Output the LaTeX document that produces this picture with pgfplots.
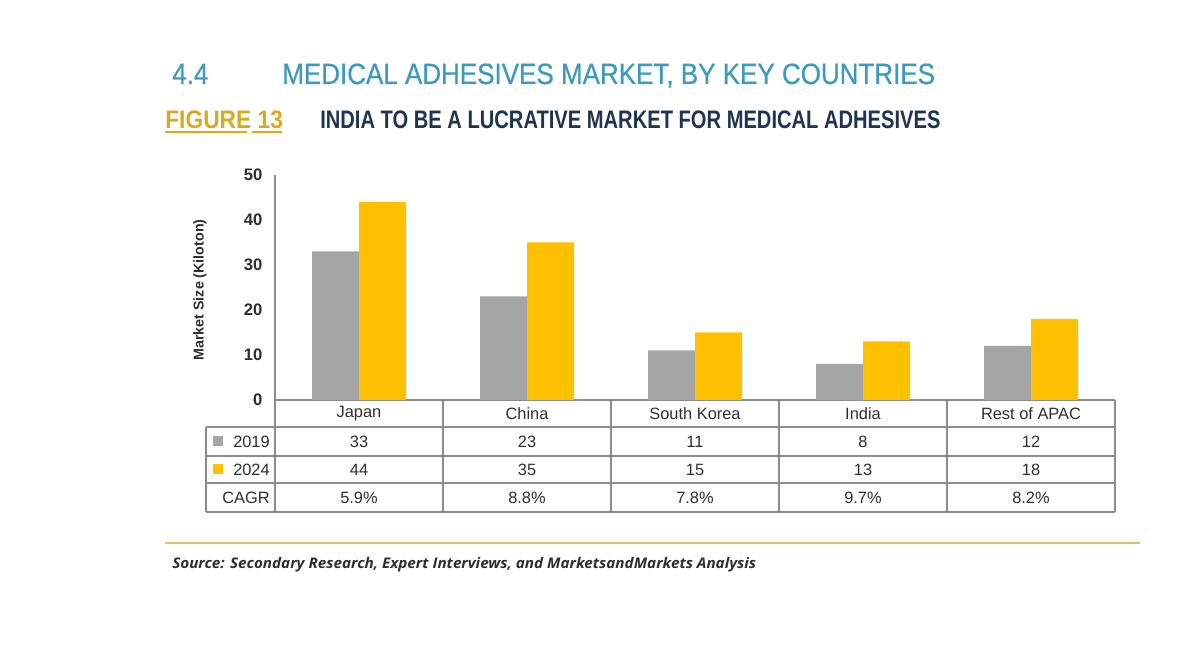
\documentclass[border=0pt]{standalone}
\usepackage{pgfplots}
\pgfplotsset{compat=1.18}
\usepackage{fontspec}
\setmainfont{Liberation Sans}
\newfontfamily\titlefont[FakeStretch=0.886,FakeBold=0.6]{Liberation Sans}
\newfontfamily\subfont[FakeStretch=0.795]{Liberation Sans}
\newfontfamily\figfont[FakeStretch=0.9]{Liberation Sans}
\newfontfamily\condfont[FakeStretch=0.82]{Liberation Sans}
\newfontfamily\srcfont[FakeStretch=1.04]{Open Sans}
\definecolor{titleblue}{HTML}{3C9AC0}
\definecolor{figgold}{HTML}{D9A91E}
\definecolor{subnavy}{HTML}{1F3450}
\definecolor{rulegold}{HTML}{E0C068}
\definecolor{bargray}{HTML}{A5A5A5}
\definecolor{baryellow}{HTML}{FFC000}
\definecolor{gridgray}{HTML}{8C8C8C}
\definecolor{txtgray}{HTML}{2E2E2E}
\begin{document}
\begin{tikzpicture}[x=0.75pt,y=0.75pt]
\path (0,0) rectangle (1200,650);
% titles
\node[anchor=base west,text=titleblue,inner sep=0pt] at (172,566) {\titlefont\fontsize{22}{26}\selectfont 4.4};
\node[anchor=base west,text=titleblue,inner sep=0pt] at (282,566) {\titlefont\fontsize{22}{26}\selectfont MEDICAL ADHESIVES MARKET, BY KEY COUNTRIES};
\node[anchor=base west,text=figgold,inner sep=0pt] at (165,521) {\figfont\bfseries\fontsize{19}{22}\selectfont FIGURE 13};
\draw[figgold,line width=1.3pt] (165,518) -- (247,518);
\draw[figgold,line width=1.3pt] (252,518) -- (282,518);
\node[anchor=base west,text=subnavy,inner sep=0pt] at (320,521) {\subfont\bfseries\fontsize{19}{22}\selectfont INDIA TO BE A LUCRATIVE MARKET FOR MEDICAL ADHESIVES};
% chart
\begin{axis}[
  at={(206.25pt,187.5pt)}, anchor=south west,
  scale only axis, width=630pt, height=168.75pt,
  xmin=-0.5, xmax=4.5, ymin=0, ymax=50,
  axis x line=bottom, axis y line=left,
  axis line style={gridgray,line width=1pt,-},
  xtick=\empty, ytick={0,10,20,30,40,50},
  major tick length=0pt,
  yticklabel style={text=txtgray,font=\bfseries\fontsize{12.5}{14}\selectfont,xshift=-6pt},
  /pgf/number format/assume math mode=true,
  clip=false,
]
\addplot[ybar, fill=bargray, draw=none, bar width=35.25pt, bar shift=-17.625pt] coordinates {(0,33) (1,23) (2,11) (3,8) (4,12)};
\addplot[ybar, fill=baryellow, draw=none, bar width=35.25pt, bar shift=17.625pt] coordinates {(0,44) (1,35) (2,15) (3,13) (4,18)};
\end{axis}
% y label
\node[rotate=90,text=txtgray,inner sep=0pt] at (200,360) {\bfseries\fontsize{10.7}{12}\selectfont Market Size (Kiloton)};
% table grid
\begin{scope}[gridgray,line width=1pt]
\draw (206,223) -- (1115,223);
\draw (206,194) -- (1115,194);
\draw (206,167) -- (1115,167);
\draw (206,138) -- (1115,138);
\draw (206,223) -- (206,138);
\draw (275,250) -- (275,138);
\foreach \xx in {443,611,779,947,1115} \draw (\xx,250) -- (\xx,138);
\end{scope}
% table text
\begin{scope}[every node/.style={text=txtgray,inner sep=0pt,font=\fontsize{12.3}{14}\selectfont}]
\foreach \xx/\t in {359/Japan,527/China,695/South Korea,863/India,1031/Rest of APAC} \node at (\xx,236) {\t};
\foreach \xx/\t in {359/33,527/23,695/11,863/8,1031/12} \node at (\xx,208.5) {\t};
\foreach \xx/\t in {359/44,527/35,695/15,863/13,1031/18} \node at (\xx,180.5) {\t};
\foreach \xx/\t in {359/5.9\%,527/8.8\%,695/7.8\%,863/9.7\%,1031/8.2\%} \node at (\xx,152.5) {\t};
\node[anchor=east] at (270,208.5) {2019};
\node[anchor=east] at (270,180.5) {2024};
\node[anchor=east] at (270,152.5) {CAGR};
\end{scope}
\fill[bargray] (213,204) rectangle (223,214);
\fill[baryellow] (213,176) rectangle (223,186);
% source
\draw[rulegold,line width=1.5pt] (165,107) -- (1140,107);
\node[anchor=base west,text=txtgray,inner sep=0pt] at (172,81) {\srcfont\bfseries\itshape\fontsize{11}{13}\selectfont Source: Secondary Research, Expert Interviews, and MarketsandMarkets Analysis};
\end{tikzpicture}
\end{document}
